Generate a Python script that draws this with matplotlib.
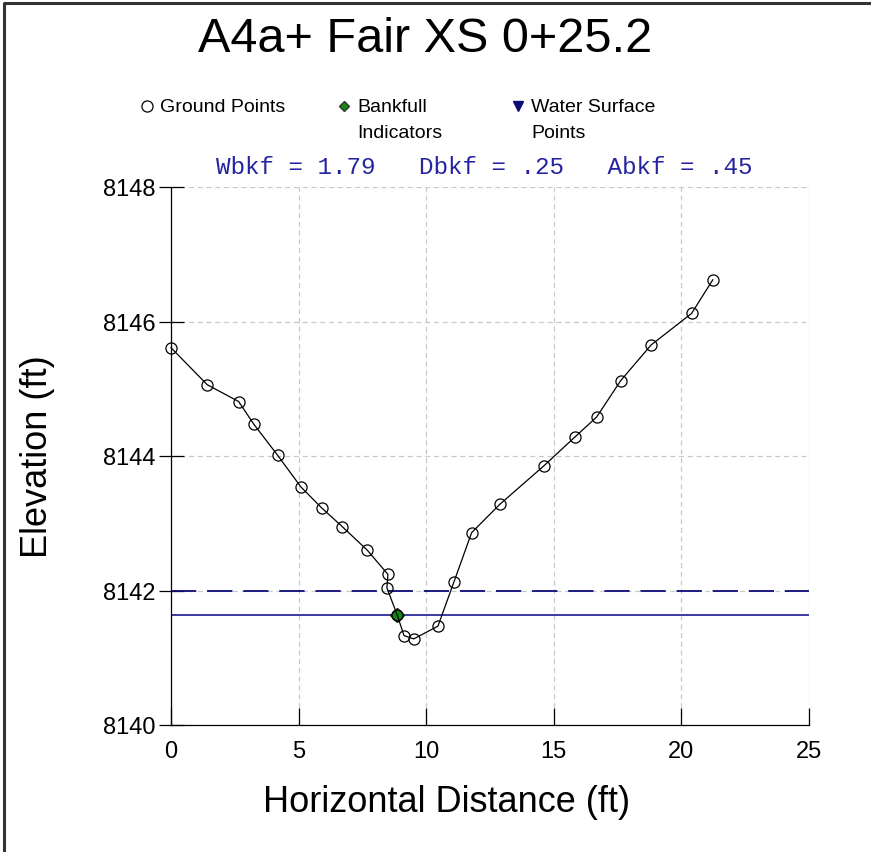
import matplotlib
matplotlib.use("Agg")
from matplotlib import pyplot as plt
from matplotlib.lines import Line2D

plt.rcParams['font.family'] = ['Liberation Sans', 'DejaVu Sans']

# cross section survey (station, elevation)
station = [0.0, 1.42, 2.65, 3.25, 4.18, 5.09, 5.90, 6.71, 7.69, 8.50, 8.46,
           8.86, 9.13, 9.51, 10.46, 11.08, 11.78, 12.88, 14.60, 15.82, 16.68,
           17.62, 18.81, 20.40, 21.23]
elevation = [8145.61, 8145.06, 8144.81, 8144.47, 8144.01, 8143.54, 8143.23,
             8142.95, 8142.60, 8142.24, 8142.04, 8141.64, 8141.33, 8141.28,
             8141.47, 8142.12, 8142.86, 8143.28, 8143.85, 8144.28, 8144.58,
             8145.12, 8145.65, 8146.12, 8146.62]

bankfull_x = [8.86]
bankfull_y = [8141.64]
bankfull_elev = 8142.0
water_elev = 8141.64

wbkf, dbkf, abkf = "1.79", ".25", ".45"

xticks = [0, 5, 10, 15, 20, 25]
yticks = [8140, 8142, 8144, 8146, 8148]

fig = plt.figure(figsize=(8.71, 8.53), dpi=100)
ax = fig.add_axes([171/871, 1 - 726/853, (809 - 171)/871, (726 - 188)/853])

ax.set_xlim(0, 25)
ax.set_ylim(8140, 8148)
ax.set_xticks(xticks)
ax.set_yticks(yticks)
ax.grid(True, color='#c8c8c8', linestyle=(0, (4, 3)), linewidth=0.9)
ax.set_axisbelow(True)
for side in ['top', 'right']:
    ax.spines[side].set_visible(False)
for side in ['left', 'bottom']:
    ax.spines[side].set_linewidth(0.9)
ax.tick_params(axis='y', direction='inout', length=18, width=0.9, labelsize=17, pad=2)
ax.tick_params(axis='x', direction='in', length=12, width=0.9, labelsize=17, pad=11)

# bankfull and water surface lines
ax.plot([0, 25], [bankfull_elev, bankfull_elev], color='#0b0b78', linewidth=1.3,
        dashes=(14, 6))
ax.plot([0, 25], [water_elev, water_elev], color='#2a2a9c', linewidth=1.3)

# ground profile
ax.plot(bankfull_x, bankfull_y, linestyle='none', marker='D', markersize=7,
        markerfacecolor='#118811', markeredgecolor='#222222', zorder=4)
ax.plot(station, elevation, color='black', linewidth=0.9, marker='o',
        markersize=8, markerfacecolor='none', markeredgecolor='black',
        markeredgewidth=0.9, zorder=5, clip_on=False)

ax.set_xlabel('Horizontal Distance (ft)', fontsize=26)
ax.xaxis.set_label_coords((447 - 171)/(809 - 171), -(785 - 726)/(726 - 188))
ax.set_ylabel('Elevation (ft)', fontsize=26)
ax.yaxis.set_label_coords(-(171 - 55)/(809 - 171), 0.5)

fig.text(425/871, 1 - 40/853, 'A4a+ Fair XS 0+25.2', fontsize=35,
         ha='center', va='center')

# legend
leg_y = 1 - 107/853
leg_y2 = 1 - 133/853
fig.add_artist(Line2D([147/871], [leg_y], transform=fig.transFigure, marker='o',
                      markersize=8, markerfacecolor='none', markeredgecolor='black',
                      markeredgewidth=0.9, linestyle='none'))
fig.text(160/871, leg_y, 'Ground Points', fontsize=14, va='center')
fig.add_artist(Line2D([344/871], [leg_y], transform=fig.transFigure, marker='D',
                      markersize=5.5, markerfacecolor='#118811',
                      markeredgecolor='#333333', linestyle='none'))
fig.text(357/871, leg_y, 'Bankfull', fontsize=14, va='center')
fig.text(357/871, leg_y2, 'Indicators', fontsize=14, va='center')
fig.add_artist(Line2D([518/871], [leg_y], transform=fig.transFigure, marker='v',
                      markersize=7, markerfacecolor='#0b0b78',
                      markeredgecolor='#0b0b78', linestyle='none'))
fig.text(531/871, leg_y, 'Water Surface', fontsize=14, va='center')
fig.text(531/871, leg_y2, 'Points', fontsize=14, va='center')

# bankfull summary
summary = f'Wbkf = {wbkf}   Dbkf = {dbkf}   Abkf = {abkf}'
fig.text(216/871, 1 - 167/853, summary, fontsize=17.5, color='#2424a0',
         family=['Liberation Mono', 'DejaVu Sans Mono'], va='center')

# frame
fig.add_artist(Line2D([4/871, 4/871, 1.0], [0.0, 1 - 4/853, 1 - 4/853],
                      transform=fig.transFigure, color='#333333', linewidth=2.2))

fig.savefig('out.png', dpi=100)
